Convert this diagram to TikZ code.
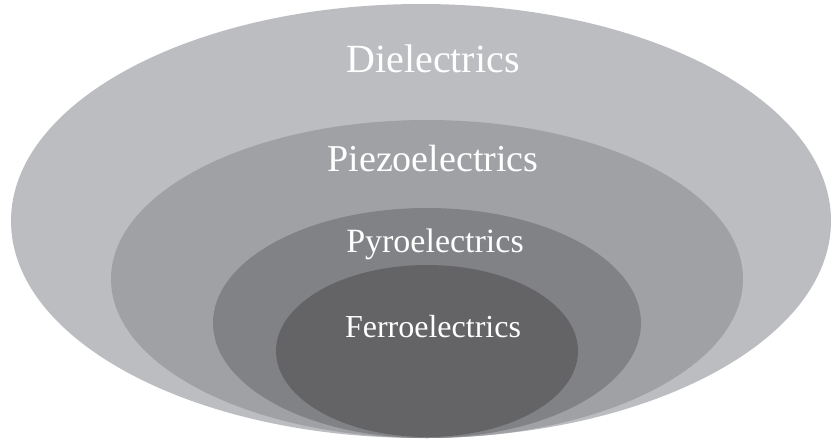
\documentclass[tikz,border=0pt]{standalone}
\usepackage{fontspec}
\setmainfont{Liberation Serif}
\usetikzlibrary{positioning}

\definecolor{dielgray}{HTML}{BCBDC1}
\definecolor{piezogray}{HTML}{A0A1A5}
\definecolor{pyrogray}{HTML}{818286}
\definecolor{ferrogray}{HTML}{646467}

\tikzset{
  layer/.style={fill=#1, draw=none},
  lbl/.style={text=white, inner sep=0pt, anchor=base}
}

\begin{document}
\begin{tikzpicture}[x=1pt,y=-1pt]
    \useasboundingbox[fill=white] (0,0) rectangle (833,440);

    % nested classes, all touching at the bottom
    \fill[layer=dielgray]  (421,221) ellipse [x radius=410, y radius=217];
    \fill[layer=piezogray] (427,279) ellipse [x radius=316, y radius=159];
    \fill[layer=pyrogray]  (427,323) ellipse [x radius=214, y radius=115];
    \fill[layer=ferrogray] (427,351) ellipse [x radius=151, y radius=86];

    \node[lbl, font=\fontsize{40}{48}\selectfont] (diel)  at (433,72)  {Dielectrics};
    \node[lbl, font=\fontsize{38}{46}\selectfont] (piezo) at (433,171) {Piezoelectrics};
    \node[lbl, font=\fontsize{34}{41}\selectfont] (pyro)  at (435,252) {Pyroelectrics};
    \node[lbl, font=\fontsize{32}{38}\selectfont] (ferro) at (433,337) {Ferroelectrics};
\end{tikzpicture}
\end{document}
